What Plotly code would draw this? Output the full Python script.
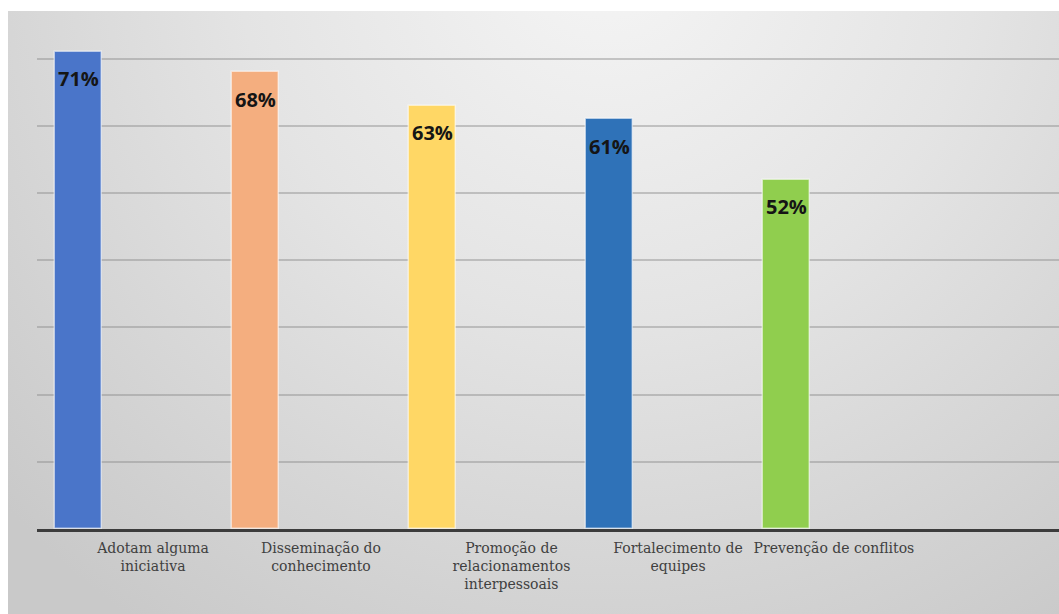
import base64
import plotly.graph_objects as go

# ---- data ----
categories = [
    "Adotam alguma<br>iniciativa",
    "Disseminação do<br>conhecimento",
    "Promoção de<br>relacionamentos<br>interpessoais",
    "Fortalecimento de<br>equipes",
    "Prevenção de conflitos",
]
values = [71, 68, 63, 61, 52]
value_labels = ["71%", "68%", "63%", "61%", "52%"]
bar_colors = ["#4A75C9", "#F4AE7F", "#FFD765", "#2F72B8", "#90CE4E"]

# ---- layout helpers (positions of the category text relative to bar index) ----
bar_pos = list(range(len(values)))
label_pos = [0.421, 1.370, 2.446, 3.387, 4.268]

W, H = 1059, 614
ML, MR, MT, MB = 37, 0, 5, 85

fig = go.Figure()
fig.add_trace(go.Bar(
    x=bar_pos,
    y=values,
    width=0.2655,
    marker=dict(color=bar_colors, line=dict(color="rgba(255,255,255,0.55)", width=1.5)),
    hoverinfo="skip",
    showlegend=False,
))

for xp, v, t in zip(bar_pos, values, value_labels):
    fig.add_annotation(
        x=xp, y=v, xref="x", yref="y", text=t, showarrow=False,
        yanchor="middle", xanchor="center", yshift=-27,
        font=dict(family="Open Sans", size=20, color="#151515", weight="bold"),
    )

# gradient background as svg
svg = """<svg xmlns='http://www.w3.org/2000/svg' width='1051' height='603' viewBox='0 0 1051 603' preserveAspectRatio='none'>
<defs><radialGradient id='g' gradientUnits='userSpaceOnUse' cx='600' cy='-60' r='820'>
<stop offset='0' stop-color='#f5f5f5'/><stop offset='0.45' stop-color='#e4e4e4'/><stop offset='1' stop-color='#c9c9c9'/>
</radialGradient></defs><rect width='1051' height='603' fill='url(#g)'/></svg>"""
src = "data:image/svg+xml;base64," + base64.b64encode(svg.encode()).decode()
pw = W - ML - MR
ph = H - MT - MB
x0 = (8 - ML) / pw
x1 = (W - ML) / pw
ytop = (H - MB - 11) / ph
ybot = (H - MB - H) / ph
fig.add_layout_image(dict(
    source=src, xref="paper", yref="paper", x=x0, y=ytop,
    sizex=x1 - x0, sizey=ytop - ybot, sizing="stretch",
    xanchor="left", yanchor="top", layer="below",
))

fig.update_layout(
    width=W, height=H,
    margin=dict(l=ML, r=MR, t=MT, b=MB),
    paper_bgcolor="white",
    plot_bgcolor="rgba(0,0,0,0)",
    bargap=0,
    xaxis=dict(
        range=[-0.2345, -0.2345 + pw / 177.0],
        tickmode="array", tickvals=label_pos, ticktext=categories,
        showgrid=False, zeroline=False,
        showline=True, linecolor="#3c3c3c", linewidth=3,
        ticks="", tickangle=0, ticklabelstandoff=4,
        tickfont=dict(family="DejaVu Serif", size=14, color="#404040"),
        fixedrange=True,
    ),
    yaxis=dict(
        range=[0, ph / 6.72],
        tickvals=[10, 20, 30, 40, 50, 60, 70],
        showticklabels=False,
        showgrid=True, gridcolor="rgba(140,140,140,0.45)", gridwidth=2,
        zeroline=False, showline=False,
        fixedrange=True,
    ),
)

fig.write_html("out.html")
